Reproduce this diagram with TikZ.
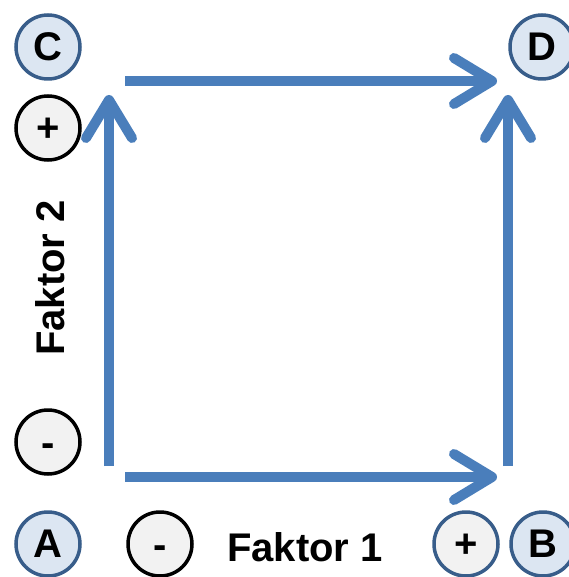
\documentclass[tikz,border=0pt]{standalone}
\usepackage{fontspec}
\setmainfont{Liberation Sans}
\usetikzlibrary{arrows.meta}
\definecolor{arrowblue}{HTML}{4A7EBB}
\definecolor{letterfill}{HTML}{DCE6F2}
\definecolor{letterdraw}{HTML}{385D8A}
\definecolor{signfill}{HTML}{F2F2F2}
\newcommand{\plussign}{\raisebox{-13.8pt}[0pt][0pt]{+}}
\newcommand{\minussign}{\raisebox{-14.5pt}[0pt][0pt]{-}}
\tikzset{
  letter/.style={circle, minimum size=64pt, inner sep=0pt, line width=3.5pt, draw=letterdraw, fill=letterfill, font=\fontsize{40}{48}\selectfont\bfseries},
  sign/.style={circle, minimum size=64pt, inner sep=0pt, line width=3.5pt, draw=black, fill=signfill, font=\fontsize{40}{48}\selectfont\bfseries},
  bluesign/.style={sign, draw=letterdraw},
  label/.style={font=\fontsize{40}{48}\selectfont\bfseries, inner sep=0pt},
  flow/.style={draw=arrowblue, line width=10pt, line cap=butt, -{Straight Barb[length=38pt, width=46pt, round]}}
}
\begin{document}
\begin{tikzpicture}[x=1pt, y=-1pt]
\useasboundingbox (0,0) rectangle (568,577);
\node[letter] (C) at (48,47) {C};
\node[letter] (D) at (542,47) {D};
\node[letter] (A) at (48,544) {A};
\node[letter] (B) at (543,544) {B};
\node[sign] (cplus) at (48,128) {\plussign};
\node[sign] (cminus) at (48,442) {\minussign};
\node[sign] (bminus) at (160,544) {\minussign};
\node[bluesign] (bplus) at (466,544) {\plussign};
\node[label] (f1) at (305,547) {Faktor 1};
\node[label, rotate=90] (f2) at (50,278) {Faktor 2};
\coordinate (a1) at (109,466);
\coordinate (c1) at (109,95);
\coordinate (a2) at (125,477);
\coordinate (b2) at (497,477);
\coordinate (b1) at (508,466);
\coordinate (d1) at (508,95);
\coordinate (c2) at (125,81);
\coordinate (d2) at (497,81);
\draw[flow] (a1) -- (c1);
\draw[flow] (a2) -- (b2);
\draw[flow] (b1) -- (d1);
\draw[flow] (c2) -- (d2);
\end{tikzpicture}
\end{document}
